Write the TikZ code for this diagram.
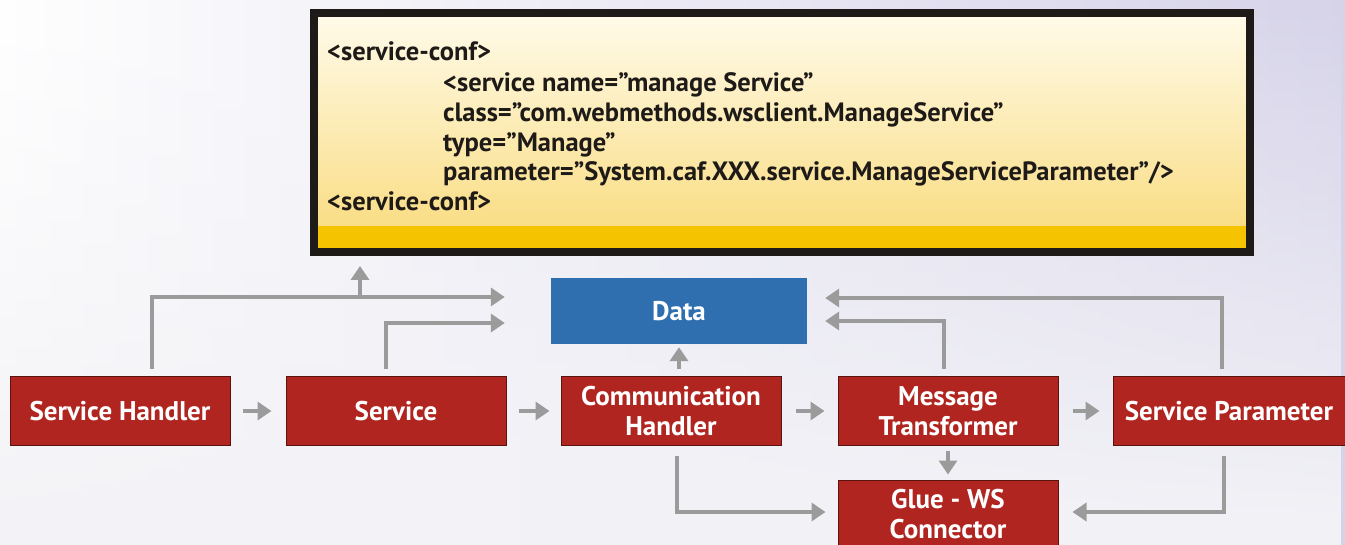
\documentclass[tikz,border=0pt]{standalone}
\usepackage{fontspec}
\setmainfont{PT Sans}
\usetikzlibrary{arrows.meta,fadings}
\definecolor{lav}{RGB}{214,211,233}
\definecolor{bgbot}{RGB}{243,243,247}
\definecolor{ylight}{RGB}{255,251,234}
\definecolor{ydark}{RGB}{249,218,122}
\definecolor{yband}{RGB}{245,195,0}
\definecolor{boxblack}{RGB}{30,26,24}
\definecolor{redfill}{RGB}{176,37,31}
\definecolor{redline}{RGB}{90,20,16}
\definecolor{bluefill}{RGB}{47,111,175}
\definecolor{arrgray}{RGB}{155,155,155}
\tikzset{
  rbox/.style={rectangle, fill=redfill, draw=redline, line width=1pt,
    minimum width=220pt, minimum height=68pt, inner sep=0pt,
    text=white, align=center, font=\bfseries\fontsize{27}{30}\selectfont},
  bbox/.style={rectangle, fill=bluefill, minimum width=256pt, minimum height=66pt,
    inner sep=0pt, text=white, font=\bfseries\fontsize{27}{30}\selectfont},
  codetxt/.style={anchor=base west, inner sep=0pt, text=boxblack,
    font=\bfseries\fontsize{26.5}{30}\selectfont},
  arr/.style={draw=arrgray, line width=4pt,
    -{Triangle[length=14pt,width=18pt]}},
}
\begin{document}
\begin{tikzpicture}[x=1pt,y=-1pt]
\useasboundingbox (0,0) rectangle (1345,545);
\clip (0,0) rectangle (1345,545);
% background
\shade[left color=white, right color=lav] (0,0) rectangle (1345,545);
\fill[bgbot, path fading=north] (0,0) rectangle (1345,545);
% code box
\node (code) [anchor=north west, rectangle, inner sep=0pt,
  minimum width=936pt, minimum height=239pt,
  top color=ylight, bottom color=ydark,
  path picture={\fill[yband] ([yshift=26pt]path picture bounding box.south west)
     rectangle (path picture bounding box.south east);},
  draw=boxblack, line width=8pt] at (310,9) {};
\node[codetxt] (c1) at (327,61) {<service-conf>};
\node[codetxt] (c2) at (443,92) {<service name=”manage Service”};
\node[codetxt] (c3) at (443,122) {class=”com.webmethods.wsclient.ManageService”};
\node[codetxt] (c4) at (443,152) {type=”Manage”};
\node[codetxt] (c5) at (443,181) {parameter=”System.caf.XXX.service.ManageServiceParameter”/>};
\node[codetxt] (c6) at (327,211) {<service-conf>};
% nodes
\node[bbox] (data) at (679,311) {Data};
\node[rbox] (sh) at (120,411) {Service Handler};
\node[rbox] (sv) at (396,411) {Service};
\node[rbox] (ch) at (671,411) {Communication\\Handler};
\node[rbox] (mt) at (948,411) {Message\\Transformer};
\node[rbox, minimum width=232pt] (sp) at (1229,411) {Service Parameter};
\node[rbox, minimum height=68pt] (glue) at (948,514) {Glue - WS\\Connector};
% horizontal chain
\draw[arr, shorten <=12pt, shorten >=14pt] (sh) -- (sv);
\draw[arr, shorten <=12pt, shorten >=11pt] (sv) -- (ch);
\draw[arr, shorten <=14pt, shorten >=13pt] (ch) -- (mt);
\draw[arr, shorten <=14pt, shorten >=13pt] (mt) -- (sp);
% vertical
\draw[arr, shorten <=7pt, shorten >=3pt] (data.south |- ch.north) -- (data.south);
\draw[arr, shorten <=5pt, shorten >=5pt] (mt.south) -- (glue.north);
% elbows to data
\coordinate (j1) at (360,297);
\draw[arr, shorten >=46pt] ([xshift=32pt,yshift=7pt]sh.north) |- (data.west |- 0,297);
\draw[arr, shorten >=10pt] (j1) -- (code.south -| j1);
\draw[arr, shorten >=46pt] ([xshift=-10pt,yshift=7pt]sv.north) |- (data.west |- 0,323);
\draw[arr, shorten >=18pt] ([xshift=-4pt,yshift=7pt]mt.north) |- (data.east |- 0,321);
\draw[arr, shorten >=18pt] ([xshift=-7pt,yshift=7pt]sp.north) |- (data.east |- 0,298);
% elbows to glue
\draw[arr, shorten >=12pt] ([xshift=6pt,yshift=-10pt]ch.south) |- (glue.west |- 0,512);
\draw[arr, shorten >=14pt] ([xshift=-5pt,yshift=-10pt]sp.south) |- (glue.east |- 0,512);
\end{tikzpicture}
\end{document}
